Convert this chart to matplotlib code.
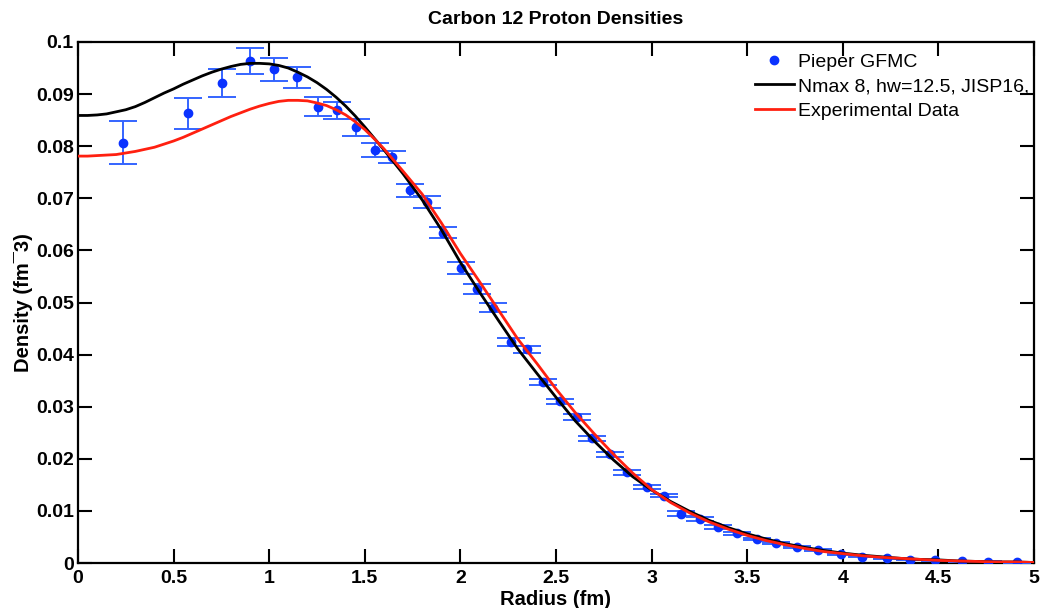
import matplotlib
matplotlib.use("Agg")
import matplotlib.pyplot as plt
from matplotlib.ticker import MultipleLocator, FuncFormatter
from matplotlib.lines import Line2D

# ---- data ----
gfmc_r = [0.235, 0.575, 0.755, 0.900, 1.025, 1.144, 1.253, 1.353, 1.454, 1.553,
          1.640, 1.736, 1.824, 1.911, 2.003, 2.085, 2.169, 2.263, 2.347, 2.434,
          2.521, 2.611, 2.690, 2.782, 2.873, 2.974, 3.063, 3.152, 3.253, 3.349,
          3.448, 3.549, 3.650, 3.758, 3.872, 3.989, 4.099, 4.229, 4.351, 4.482,
          4.622, 4.761, 4.910]
gfmc_rho = [0.0807, 0.0863, 0.0921, 0.0964, 0.0948, 0.0932, 0.0876, 0.0869, 0.0836, 0.0793,
            0.0779, 0.0715, 0.0693, 0.0634, 0.0566, 0.0526, 0.0490, 0.0424, 0.0410, 0.0348,
            0.0310, 0.0280, 0.0239, 0.0209, 0.0174, 0.0146, 0.0129, 0.0095, 0.0085, 0.0069,
            0.0057, 0.0046, 0.0039, 0.0031, 0.0025, 0.0017, 0.0012, 0.0009, 0.0006, 0.0005,
            0.0003, 0.0002, 0.0001]
gfmc_err = [0.0042, 0.0030, 0.0027, 0.0025, 0.0022, 0.0020, 0.0018, 0.0016, 0.0017, 0.0014,
            0.0012, 0.0013, 0.0011, 0.0011, 0.0011, 0.0009, 0.0009, 0.0008, 0.0006, 0.0006,
            0.0005, 0.0006, 0.0005, 0.0005, 0.0005, 0.0004, 0.0003, 0.0004, 0.0004, 0.0003,
            0.0003, 0.0002, 0.0002, 0.0002, 0.0002, 0.0001, 0.0001, 0.0001, 0.0001, 0.0001,
            0.0001, 0.0001, 0.0001]

curve_r = [0.00, 0.05, 0.10, 0.15, 0.20, 0.25, 0.30, 0.35, 0.40, 0.45,
           0.50, 0.55, 0.60, 0.65, 0.70, 0.75, 0.80, 0.85, 0.90, 0.95,
           1.00, 1.05, 1.10, 1.15, 1.20, 1.25, 1.30, 1.35, 1.40, 1.45,
           1.50, 1.55, 1.60, 1.70, 1.80, 1.90,
           2.0, 2.1, 2.2, 2.3, 2.4, 2.5, 2.6, 2.7, 2.8, 2.9,
           3.0, 3.1, 3.2, 3.3, 3.4, 3.5, 3.6, 3.7, 3.8, 3.9,
           4.0, 4.1, 4.2, 4.3, 4.4, 4.5, 4.6, 4.7, 4.8, 4.9, 5.0]
jisp16_rho = [0.0859, 0.0859, 0.0860, 0.0862, 0.0866, 0.0870, 0.0876, 0.0884, 0.0893, 0.0902,
              0.0910, 0.0919, 0.0927, 0.0935, 0.0942, 0.0948, 0.0953, 0.0957, 0.0959, 0.0959,
              0.0958, 0.0955, 0.0950, 0.0942, 0.0933, 0.0922, 0.0909, 0.0894, 0.0877, 0.0858,
              0.0837, 0.0815, 0.0793, 0.0747, 0.0697, 0.0640,
              0.0577, 0.0520, 0.0465, 0.0411, 0.0364, 0.0318, 0.0273, 0.0234, 0.0198, 0.0166,
              0.0140, 0.0118, 0.0099, 0.0082, 0.0068, 0.0056, 0.0046, 0.0037, 0.0030, 0.0024,
              0.0019, 0.0015, 0.0012, 0.0009, 0.0007, 0.0006, 0.0004, 0.0003, 0.0002, 0.0002, 0.0001]
exp_rho = [0.0781, 0.0781, 0.0782, 0.0783, 0.0784, 0.0787, 0.0790, 0.0794, 0.0798, 0.0804,
           0.0810, 0.0817, 0.0825, 0.0833, 0.0841, 0.0849, 0.0857, 0.0864, 0.0871, 0.0877,
           0.0882, 0.0886, 0.0888, 0.0888, 0.0887, 0.0883, 0.0878, 0.0870, 0.0860, 0.0847,
           0.0832, 0.0814, 0.0795, 0.0752, 0.0708, 0.0653,
           0.0594, 0.0540, 0.0485, 0.0430, 0.0383, 0.0334, 0.0289, 0.0248, 0.0209, 0.0173,
           0.0141, 0.0116, 0.0096, 0.0079, 0.0065, 0.0053, 0.0043, 0.0035, 0.0028, 0.0022,
           0.0018, 0.0014, 0.0011, 0.0009, 0.0007, 0.0005, 0.0004, 0.0003, 0.0002, 0.0002, 0.0001]

title = "Carbon 12 Proton Densities"
xlabel = "Radius (fm)"
ylabel = "Density (fm\u00af3)"
labels = ["Pieper GFMC", "Nmax 8, hw=12.5, JISP16,", "Experimental Data"]

plt.rcParams['font.family'] = ['Liberation Sans Narrow', 'Liberation Sans', 'DejaVu Sans']

fig = plt.figure(figsize=(10.51, 6.08), dpi=100)
ax = fig.add_axes([78/1051, 1-563/608, (1034-78)/1051, (563-42)/608])

blue = '#0a32ff'
ax.errorbar(gfmc_r, gfmc_rho, yerr=gfmc_err, fmt='o', color=blue, ms=6,
            ecolor='#3464ff', elinewidth=1.4, capsize=10, capthick=1.4, zorder=3)
l1, = ax.plot(curve_r, jisp16_rho, color='black', lw=2, zorder=4)
l2, = ax.plot(curve_r, exp_rho, color='#ff2010', lw=2, zorder=5)

ax.set_xlim(0, 5)
ax.set_ylim(0, 0.1)
ax.xaxis.set_major_locator(MultipleLocator(0.5))
ax.yaxis.set_major_locator(MultipleLocator(0.01))
ax.xaxis.set_major_formatter(FuncFormatter(lambda v, p: f"{v:g}"))
ax.yaxis.set_major_formatter(FuncFormatter(lambda v, p: f"{round(v, 3):g}"))
ax.tick_params(direction='in', length=10, width=1.5, top=True, right=True,
               labelsize=14)
ax.tick_params(axis='x', pad=5)
ax.tick_params(axis='y', pad=3)
for lab in ax.get_xticklabels() + ax.get_yticklabels():
    lab.set_fontweight('bold')
for s in ax.spines.values():
    s.set_linewidth(1.6)

ax.set_title(title, fontsize=14, fontweight='bold', pad=13)
ax.set_xlabel(xlabel, fontsize=14.5, fontweight='bold', labelpad=2)
ax.set_ylabel(ylabel, fontsize=14.5, fontweight='bold', labelpad=2)

h0 = Line2D([], [], ls='none', marker='o', color=blue, ms=6)
leg = ax.legend([h0, l1, l2], labels, loc='upper left', frameon=False,
                bbox_to_anchor=((755-78)/956, (563-53)/521), borderaxespad=0,
                borderpad=0, handlelength=2.0, handletextpad=0.2,
                labelspacing=0.36,
                prop={'family': ['Liberation Sans', 'DejaVu Sans'], 'size': 14})
leg.set_zorder(10)

fig.savefig("out.png", dpi=100)
